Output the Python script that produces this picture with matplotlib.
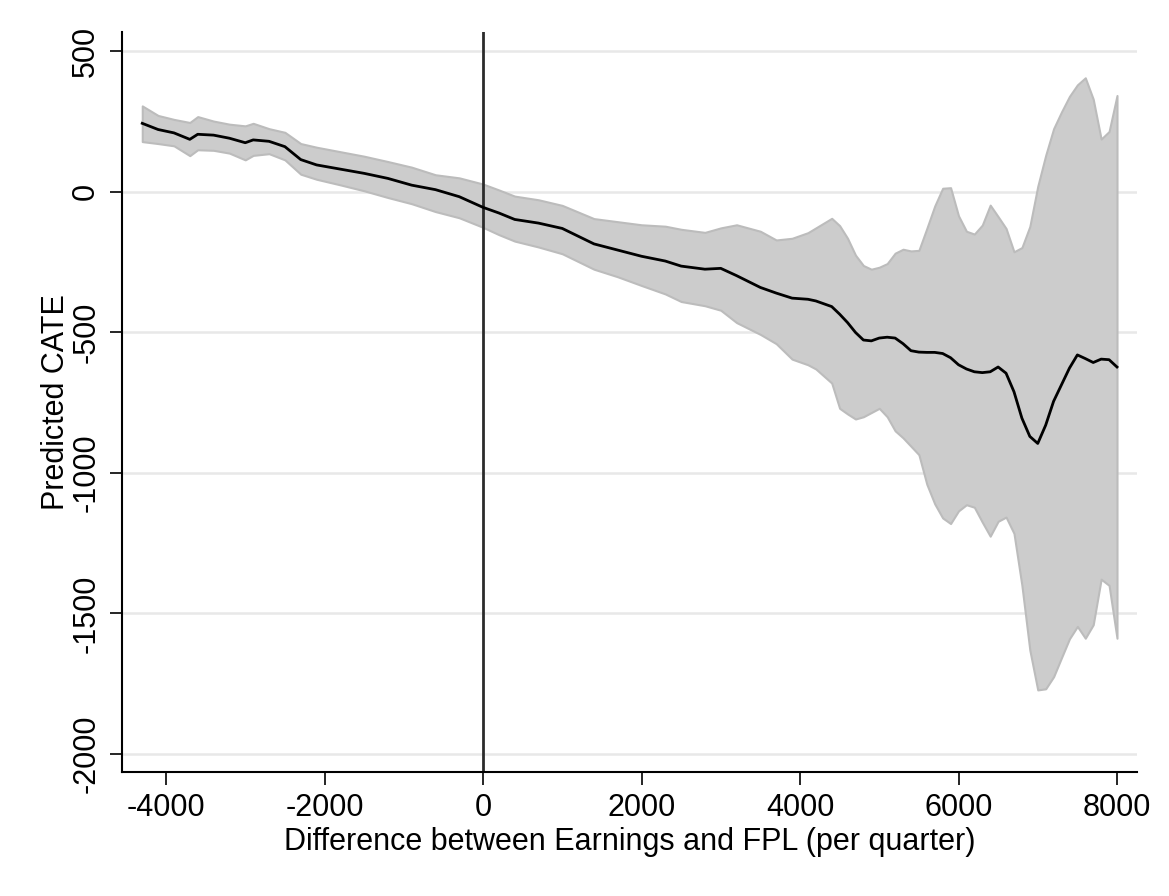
import numpy as np
import matplotlib
matplotlib.use('Agg')
import matplotlib.pyplot as plt

plt.rcParams['font.family'] = ['Liberation Sans', 'DejaVu Sans']
plt.rcParams['axes.unicode_minus'] = False

# 收入与FPL之差（每季度）
x = [-4300, -4100, -3900, -3700, -3600, -3400, -3200, -3000, -2900, -2700,
     -2500, -2300, -2100, -1800, -1500, -1200, -900, -600, -300, 0,
     200, 400, 700, 1000, 1400, 1700, 2000, 2300, 2500, 2800,
     3000, 3200, 3500, 3700, 3900, 4100, 4200, 4400, 4500, 4600,
     4700, 4800, 4900, 5000, 5100, 5200, 5300, 5400, 5500, 5600,
     5700, 5800, 5900, 6000, 6100, 6200, 6300, 6400, 6500, 6600,
     6700, 6800, 6900, 7000, 7100, 7200, 7300, 7400, 7500, 7600,
     7700, 7800, 7900, 8000]

# 预测CATE
cate = [244, 222, 210, 187, 205, 202, 191, 175, 185, 180,
        161, 115, 96, 81, 66, 48, 24, 8, -17, -55,
        -75, -98, -111, -130, -185, -207, -229, -246, -264, -275,
        -272, -298, -340, -360, -378, -382, -388, -408, -435, -465,
        -500, -527, -530, -520, -517, -520, -540, -565, -570, -571,
        -571, -575, -590, -615, -630, -640, -643, -640, -623, -645,
        -711, -805, -870, -895, -830, -745, -686, -627, -580, -593,
        -607, -595, -597, -623]

# 置信区间上界
upper = [306, 272, 258, 247, 268, 252, 241, 235, 244, 225,
         212, 172, 159, 143, 127, 108, 88, 61, 50, 28,
         7, -15, -28, -48, -95, -106, -117, -122, -133, -144,
         -128, -117, -140, -171, -165, -145, -128, -94, -120, -165,
         -225, -262, -275, -268, -255, -218, -204, -210, -208, -130,
         -50, 13, 15, -85, -140, -150, -118, -47, -88, -130,
         -213, -198, -123, 20, 130, 225, 285, 340, 381, 406,
         330, 188, 215, 343]

# 置信区间下界
lower = [179, 172, 164, 129, 150, 148, 138, 114, 130, 136,
         114, 63, 45, 25, 4, -20, -42, -70, -92, -126,
         -152, -175, -196, -220, -275, -302, -333, -363, -390, -405,
         -421, -465, -507, -540, -595, -615, -630, -680, -770, -790,
         -808, -800, -785, -770, -800, -850, -875, -905, -935, -1040,
         -1110, -1160, -1180, -1135, -1113, -1122, -1175, -1225, -1172, -1157,
         -1215, -1400, -1630, -1772, -1768, -1725, -1657, -1590, -1546, -1588,
         -1540, -1378, -1400, -1588]

xticks = [-4000, -2000, 0, 2000, 4000, 6000, 8000]
yticks = [500, 0, -500, -1000, -1500, -2000]

fig = plt.figure(figsize=(11.69, 8.96), dpi=100)
ax = fig.add_axes([0.1044, 0.1384, 0.8682, 0.8259])

for yt in yticks:
    ax.axhline(yt, color='#e8e8e8', lw=1.8, zorder=0)

ax.fill_between(x, lower, upper, facecolor='#cccccc', edgecolor='#bcbcbc', lw=1.5, zorder=1)
ax.plot(x, cate, color='black', lw=2, zorder=3)
ax.axvline(0, color='#2b2b2b', lw=2, zorder=2)

ax.set_xlim(-4555, 8252)
ax.set_ylim(-2064, 569)
ax.set_xticks(xticks)
ax.set_yticks(yticks)
ax.set_yticklabels([str(v) for v in yticks], rotation=90, va='center')

for s in ['top', 'right']:
    ax.spines[s].set_visible(False)
for s in ['left', 'bottom']:
    ax.spines[s].set_linewidth(1.5)
ax.tick_params(axis='both', direction='out', length=9, width=1.2, labelsize=22, pad=6)

ax.set_xlabel('Difference between Earnings and FPL (per quarter)', fontsize=22, labelpad=3)
ax.set_ylabel('Predicted CATE', fontsize=22, labelpad=0)

plt.savefig('out.png', dpi=100)
